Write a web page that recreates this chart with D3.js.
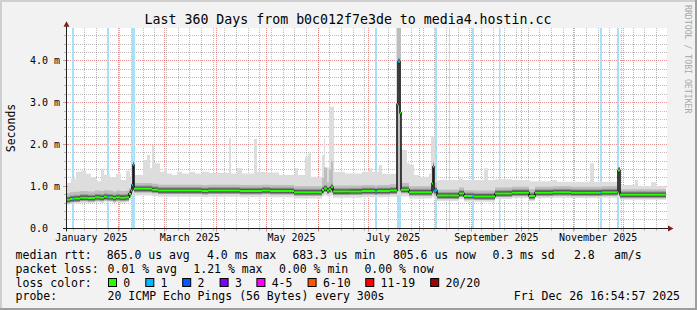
<!DOCTYPE html>
<html><head><meta charset="utf-8">
<script src="https://cdn.jsdelivr.net/npm/d3@7"></script>
<style>html,body{margin:0;padding:0;background:#f2f2f2;}svg{display:block;}</style>
</head><body>
<svg id="c" width="697" height="310"></svg>
<script>
// ---------- DATA ----------
const endTime = Date.UTC(2025, 11, 26, 16, 54, 57);
const spanDays = 360;
const startTime = endTime - spanDays * 864e5;

// median rtt (ms) as a step series: day offset from graph start, value, lost pings
const medDay = [0, 2.4, 3.6, 4.8, 8.4, 13.2, 17.4, 20.4, 22.8, 24.6, 25.8, 28.2, 30, 32.4, 36, 37.8, 39, 39.6, 40.2, 40.8,
  51.6, 55.2, 81.6, 85.2, 104.4, 117.6, 122.4, 136.8, 153.6, 154.8, 156.6, 157.8, 159, 160.2, 170.4, 177.6, 185.4, 186.6, 194.4, 198.6,
  199.2, 200.4, 201, 205.8, 219.6, 220.2, 220.8, 222.6, 229.8, 230.4, 235.8, 238.8, 243.6, 244.8, 257.4, 267.6, 277.8, 281.4, 292.2, 303,
  320.4, 321.6, 330.6, 331.2, 332.4];
const medVal = [0.68, 0.70, 0.70, 0.71, 0.73, 0.72, 0.74, 0.73, 0.75, 0.74, 0.74, 0.72, 0.74, 0.73, 0.74, 0.82, 0.90, 1.03, 1.51, 0.94,
  0.92, 0.90, 0.89, 0.90, 0.89, 0.90, 0.89, 0.86, 0.91, 0.95, 0.90, 0.93, 0.98, 0.875, 0.88, 0.89, 0.88, 0.89, 0.90, 2.96,
  3.98, 2.76, 0.92, 0.86, 1.07, 1.47, 0.90, 0.78, 0.78, 0.78, 0.83, 0.77, 0.77, 0.76, 0.83, 0.85, 0.77, 0.85, 0.86, 0.85,
  0.85, 0.86, 0.87, 1.38, 0.80];
const medLoss = [0,0,1,0,0,0,0,0,0,1, 0,0,0,0,0,0,0,1,1,0, 0,0,0,0,0,0,0,0,0,0,
  0,0,0,0,0,0,1,0,0,1, 1,0,0,0,0,0,1,0,1,0, 0,0,1,0,0,0,0,0,0,0, 1,0,1,0,0];
// smoke (ping spread) per median segment, ms
const smokeMin = [0.56,0.58,0.58,0.59,0.61,0.60,0.62,0.61,0.63,0.62, 0.62,0.60,0.62,0.61,0.62,0.68,0.76,0.78,0.80,0.78,
  0.77,0.75,0.74,0.75,0.74,0.75,0.74,0.71,0.76,0.78, 0.76,0.77,0.78,0.73,0.73,0.74,0.73,0.74,0.75,0.78,
  0.78,0.78,0.76,0.71,0.75,0.75,0.70,0.65,0.65,0.65, 0.69,0.64,0.64,0.63,0.70,0.72,0.65,0.72,0.73,0.72,
  0.72,0.73,0.74,0.72,0.68];
const smokeLo = [0.63,0.65,0.65,0.66,0.68,0.67,0.69,0.68,0.70,0.69, 0.69,0.67,0.69,0.68,0.69,0.74,0.84,0.85,0.90,0.88,
  0.86,0.84,0.83,0.84,0.83,0.84,0.83,0.80,0.85,0.87, 0.84,0.86,0.88,0.82,0.82,0.83,0.82,0.83,0.84,0.88,
  0.88,0.88,0.85,0.80,0.82,0.82,0.78,0.73,0.73,0.73, 0.77,0.72,0.72,0.71,0.78,0.80,0.72,0.80,0.81,0.80,
  0.80,0.81,0.82,0.80,0.75];
const smokeHi = [0.84,0.86,0.86,0.87,0.89,0.88,0.90,0.89,0.91,0.90, 0.90,0.88,0.90,0.89,0.90,0.96,1.04,1.51,1.60,1.08,
  1.06,1.04,1.03,1.04,1.03,1.04,1.03,1.00,1.20,1.45, 1.10,1.40,1.60,1.02,1.02,1.03,1.02,1.03,1.05,4.90,
  4.90,4.90,1.08,1.00,1.47,1.60,1.10,0.92,0.92,0.92, 0.97,0.91,0.91,0.90,0.97,0.99,0.93,0.99,1.00,0.99,
  0.99,1.00,1.01,1.45,0.93];
// highest ping (outer smoke top) as a step series
const maxDay = [0, 3, 6, 9, 12, 15, 18, 21, 22.8, 26.4, 30, 33, 36, 38.4, 40.2, 40.8, 46.2, 48.6, 50.4, 51.6,
  52.8, 56.4, 58.8, 60.6, 63.6, 66.6, 69.6, 73.8, 77.4, 81.6, 85.8, 97.8, 99, 102.6, 105.6, 112.8, 114.6, 119.4, 127.8, 137.4,
  139.2, 143.4, 145.2, 147, 153.6, 154.8, 155.4, 157.8, 160.8, 167.4, 177.6, 181.8, 183.6, 187.8, 189.6, 198, 201, 204.6, 206.4, 208.8,
  211.8, 217.8, 219, 221.4, 235.8, 238.2, 250.8, 253.2, 257.4, 267.6, 278.4, 291.6, 294.6, 314.4, 316.8, 330.6, 332.4, 341.4, 343.2, 351, 354];
const maxVal = [1.08, 1.18, 1.35, 1.38, 1.30, 1.22, 1.12, 1.42, 1.28, 1.22, 1.30, 1.15, 1.38, 1.20, 3.00, 1.27, 1.63, 1.75, 1.43, 1.99,
  1.55, 1.35, 1.43, 1.31, 1.27, 1.35, 1.31, 1.35, 1.31, 1.35, 1.32, 2.15, 1.31, 1.43, 1.31, 2.13, 1.35, 1.33, 1.27, 1.43,
  1.27, 1.71, 1.79, 1.23, 1.75, 2.15, 1.45, 2.90, 1.35, 1.31, 1.35, 1.43, 1.35, 1.51, 1.30, 4.90, 1.87, 1.55, 1.51, 1.27,
  1.23, 1.30, 2.19, 1.15, 1.19, 1.15, 1.43, 1.15, 1.17, 1.15, 1.12, 1.15, 1.11, 1.55, 1.11, 1.40, 1.03, 1.15, 1.01, 1.10, 1.00];
// periods with packet loss (background bars)
const lossBarDay = [3.6, 24.6, 39.3, 185.4, 198.6, 221.4, 229.8, 243.6, 259.8, 320.4, 330.6];
const lossBarLen = [1.2, 1.2, 2.1, 1.2, 2.4, 1.2, 0.6, 1.2, 0.9, 1.2, 1.2];
const lossBarCount = [1, 1, 1, 1, 1, 1, 1, 1, 1, 1, 1];

const yTicks = [0, 1, 2, 3, 4];
const yTickLabels = ["0.0", "1.0 m", "2.0 m", "3.0 m", "4.0 m"];
const yMax = 4.78;
const xLabelMonths = ["January 2025", "March 2025", "May 2025", "July 2025", "September 2025", "November 2025"];

const lossLabels = ["0", "1", "2", "3", "4-5", "6-10", "11-19", "20/20"];
const lossColors = ["#26ff00", "#00b8ff", "#0059ff", "#7e00ff", "#ff00ff", "#ff5500", "#ff0000", "#a10000"];
const lossBgColors = ["#ffffff", "#aadff5"];

const statRtt = ["865.0 us avg", "4.0 ms max", "683.3 us min", "805.6 us now", "0.3 ms sd", "2.8", "am/s"];
const statLoss = ["0.01 % avg", "1.21 % max", "0.00 % min", "0.00 % now"];
const titleText = "Last 360 Days from b0c012f7e3de to media4.hostin.cc";
const probeText = "20 ICMP Echo Pings (56 Bytes) every 300s";
const stampText = "Fri Dec 26 16:54:57 2025";

// ---------- DRAW ----------
const svg = d3.select("#c");
const FONT = "DejaVu Sans Mono, monospace";
const X0 = 66, X1 = 666, YB = 228.2, YT = 28.2;
const x = d3.scaleUtc().domain([new Date(startTime), new Date(endTime)]).range([X0, X1]);
const xd = d => x(new Date(startTime + d * 864e5));
const y = d3.scaleLinear().domain([0, yMax]).range([YB, YT]);
const px = v => Math.floor(v) + 0.5;

// background + frame
svg.append("rect").attr("width", 697).attr("height", 310).attr("fill", "#f2f2f2");
svg.append("rect").attr("x", 0).attr("y", 0).attr("width", 697).attr("height", 2).attr("fill", "#cfcfcf");
svg.append("rect").attr("x", 0).attr("y", 0).attr("width", 2).attr("height", 310).attr("fill", "#cfcfcf");
svg.append("rect").attr("x", 0).attr("y", 308).attr("width", 697).attr("height", 2).attr("fill", "#9e9e9e");
svg.append("rect").attr("x", 695).attr("y", 0).attr("width", 2).attr("height", 310).attr("fill", "#9e9e9e");

// canvas
svg.append("rect").attr("x", X0).attr("y", 28).attr("width", X1 - X0 + 1).attr("height", 201).attr("fill", "#ffffff");
svg.append("defs").append("clipPath").attr("id", "cp").append("rect")
  .attr("x", X0).attr("y", 28).attr("width", X1 - X0 + 1).attr("height", 200.5);

const gridC = "rgba(143,143,143,0.6)", mgridC = "rgba(222,79,79,0.6)";
const grid = svg.append("g");
const minorY = d3.range(1, 24).map(i => i * 0.2).filter(v => Math.abs(v - Math.round(v)) > 1e-6);
minorY.forEach(v => grid.append("line").attr("x1", X0).attr("x2", X1 + 1).attr("y1", px(y(v))).attr("y2", px(y(v)))
  .attr("stroke", gridC).attr("stroke-dasharray", "1,1"));
const sundays = d3.utcSunday.range(new Date(startTime), new Date(endTime));
sundays.forEach(d => grid.append("line").attr("x1", px(x(d))).attr("x2", px(x(d))).attr("y1", 28).attr("y2", YB)
  .attr("stroke", gridC).attr("stroke-dasharray", "1,1"));
yTicks.slice(1).forEach(v => grid.append("line").attr("x1", X0).attr("x2", X1 + 1).attr("y1", px(y(v))).attr("y2", px(y(v)))
  .attr("stroke", mgridC).attr("stroke-dasharray", "1,1"));
const months = d3.utcMonth.range(new Date(startTime), new Date(endTime));
months.forEach(d => grid.append("line").attr("x1", px(x(d))).attr("x2", px(x(d))).attr("y1", 28).attr("y2", YB)
  .attr("stroke", mgridC).attr("stroke-dasharray", "1,1"));

const plot = svg.append("g").attr("clip-path", "url(#cp)");
lossBarDay.forEach((d, i) => {
  const a = xd(d), b = xd(d + lossBarLen[i]);
  plot.append("rect").attr("x", a).attr("y", 28).attr("width", Math.max(1, b - a)).attr("height", YB - 28)
    .attr("fill", lossBgColors[lossBarCount[i]]);
});

// outer smoke: merge both step series
const allDays = Array.from(new Set(medDay.concat(maxDay))).sort((a, b) => a - b);
const outer = allDays.map(d => {
  const mi = d3.bisectRight(medDay, d) - 1, xi = d3.bisectRight(maxDay, d) - 1;
  return { d, lo: smokeMin[mi], hi: Math.max(maxVal[xi], smokeHi[mi]) };
});
outer.push(Object.assign({}, outer[outer.length - 1], { d: spanDays }));
const area = d3.area().x(p => xd(p.d)).y0(p => y(p.lo)).y1(p => y(p.hi)).curve(d3.curveStepAfter);
plot.append("path").attr("d", area(outer)).attr("fill", "#dddddd");

const seg = medDay.map((d, i) => ({ d, v: medVal[i], lo: smokeLo[i], hi: smokeHi[i], l: medLoss[i] }));
seg.push(Object.assign({}, seg[seg.length - 1], { d: spanDays }));
const mid = d3.area().x(p => xd(p.d)).y0(p => y(p.lo)).y1(p => y(p.hi)).curve(d3.curveStepAfter);
plot.append("path").attr("d", mid(seg)).attr("fill", "#bdbdbd");

// dark core of the smoke around each median segment (horizontal only)
const segs = seg.slice(0, -1).map((p, i) => ({ a: xd(p.d), b: xd(seg[i + 1].d), yy: y(p.v), l: p.l }));
segs.forEach(s => plot.append("rect").attr("x", s.a).attr("width", s.b - s.a).attr("y", s.yy - 3.5).attr("height", 7).attr("fill", "#9a9a9a"));
segs.forEach(s => plot.append("rect").attr("x", s.a).attr("width", s.b - s.a).attr("y", s.yy - 2.3).attr("height", 4.6).attr("fill", "#5a5a5a"));
const step = d3.line().x(p => xd(p.d)).y(p => y(p.v)).curve(d3.curveStepAfter);
plot.append("path").attr("d", step(seg)).attr("fill", "none").attr("stroke", "#1a1a1a").attr("stroke-width", 1.6);
segs.forEach(s => plot.append("line").attr("x1", s.a).attr("x2", s.b).attr("y1", s.yy).attr("y2", s.yy)
  .attr("stroke", lossColors[s.l]).attr("stroke-width", 2));

// axes
const ax = svg.append("g");
const axisC = "#1f1f1f", arrowC = "#801f1f";
sundays.forEach(d => ax.append("line").attr("x1", px(x(d))).attr("x2", px(x(d))).attr("y1", YB).attr("y2", YB + 2.5).attr("stroke", gridC));
months.forEach(d => ax.append("line").attr("x1", px(x(d))).attr("x2", px(x(d))).attr("y1", YB - 2).attr("y2", YB + 3.5).attr("stroke", mgridC));
minorY.forEach(v => ax.append("line").attr("x1", X0 - 2).attr("x2", X0 + 0.5).attr("y1", px(y(v))).attr("y2", px(y(v))).attr("stroke", gridC));
yTicks.slice(1).forEach(v => ax.append("line").attr("x1", X0 - 3).attr("x2", X0 + 2).attr("y1", px(y(v))).attr("y2", px(y(v))).attr("stroke", mgridC));
ax.append("line").attr("x1", X0 - 3).attr("x2", 670).attr("y1", px(YB)).attr("y2", px(YB)).attr("stroke", axisC);
ax.append("line").attr("x1", X0 + 0.5).attr("x2", X0 + 0.5).attr("y1", YB + 3).attr("y2", 24).attr("stroke", axisC);
ax.append("path").attr("d", `M668,${px(YB) - 3}L673.5,${px(YB)}L668,${px(YB) + 3}Z`).attr("fill", arrowC);
ax.append("path").attr("d", `M63.5,26.8L66.5,21.3L69.5,26.8Z`).attr("fill", arrowC);

yTicks.forEach((v, i) => svg.append("text").attr("x", 30).attr("y", y(v) + 3.6)
  .attr("font-family", FONT).attr("font-size", 10).attr("fill", "#000").text(yTickLabels[i]));
const labelMonths = months.filter(d => d.getUTCMonth() % 2 === 0);
labelMonths.forEach((d, i) => svg.append("text").attr("x", x(new Date(d.getTime() + 15 * 864e5)))
  .attr("y", 241.4).attr("text-anchor", "middle").attr("font-family", FONT).attr("font-size", 10)
  .attr("fill", "#000").text(xLabelMonths[i]));

svg.append("text").attr("x", 348).attr("y", 24).attr("text-anchor", "middle").attr("font-family", FONT)
  .attr("font-size", 13.25).attr("fill", "#000").text(titleText);
svg.append("text").attr("transform", "translate(14.5,128) rotate(-90)").attr("text-anchor", "middle")
  .attr("font-family", FONT).attr("font-size", 11.5).attr("fill", "#000").text("Seconds");
svg.append("text").attr("transform", "translate(685,5) rotate(90)").attr("font-family", FONT)
  .attr("font-size", 8.2).attr("fill", "#a8a8a8").text("RRDTOOL / TOBI OETIKER");

const L = (xx, yy, t, anchor) => svg.append("text").attr("x", xx).attr("y", yy).attr("text-anchor", anchor || "start")
  .attr("font-family", FONT).attr("font-size", 11.5).attr("fill", "#000").attr("xml:space", "preserve").text(t);
const r1 = 258.5, r2 = 272.5, r3 = 286.5, r4 = 300.2;
L(15.6, r1, "median rtt:");
[106.7, 207, 292.4, 392.9, 492.4, 574, 614].forEach((xx, i) => L(xx, r1, statRtt[i]));
L(15.6, r2, "packet loss:");
[107.6, 193.3, 279, 364.4].forEach((xx, i) => L(xx, r2, statLoss[i]));
L(15.6, r3, "loss color:");
[108, 145.3, 182.2, 219.6, 256.4, 307.6, 365.3, 430.2].forEach((xx, i) => {
  svg.append("rect").attr("x", xx + 0.5).attr("y", 278.5).attr("width", 8).attr("height", 8)
    .attr("fill", lossColors[i]).attr("stroke", "#000").attr("stroke-width", 1);
  L(xx + 15.3, r3, lossLabels[i]);
});
L(15.6, r4, "probe:");
L(107.6, r4, probeText);
L(680, r4, stampText, "end");
</script>
</body></html>
